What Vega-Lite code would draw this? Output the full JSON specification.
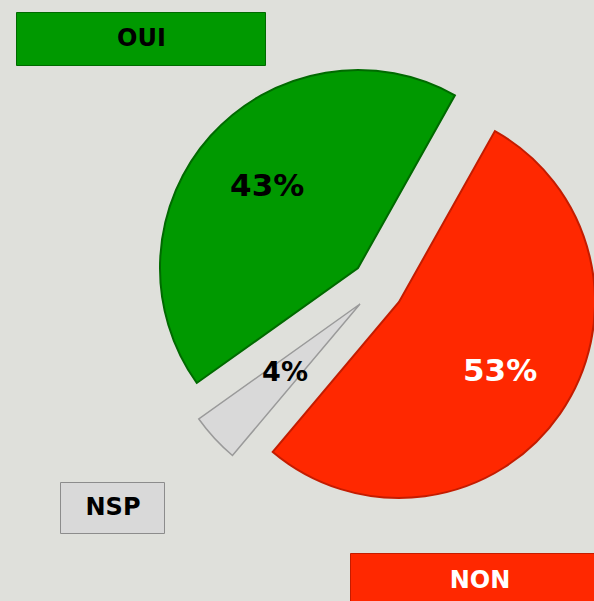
{
  "$schema": "https://vega.github.io/schema/vega-lite/v6.json",
  "width": 594,
  "height": 601,
  "autosize": "none",
  "padding": 0,
  "background": "#dfe0db",
  "config": {"view": {"stroke": null}},
  "data": {"values": [
    {"cat": "NON", "pct": 53, "ord": 1, "label": "53%"},
    {"cat": "NSP", "pct": 4, "ord": 2, "label": "4%"},
    {"cat": "OUI", "pct": 43, "ord": 3, "label": "43%"}
  ]},
  "layer": [
    {
      "mark": {"type": "arc", "outerRadius": 196, "xOffset": 102, "yOffset": 1.5, "stroke": "#c41c00", "strokeWidth": 2},
      "encoding": {
        "theta": {"field": "pct", "type": "quantitative", "stack": true, "scale": {"range": [0.5114, 6.7946]}},
        "order": {"field": "ord", "type": "quantitative"},
        "color": {"field": "cat", "type": "nominal", "scale": {"domain": ["NON"], "range": ["#ff2800"]},
          "legend": {"orient": "none", "legendX": 459, "legendY": 560, "title": null, "padding": 0,
            "symbolType": "M-6.45,-1.35H6.05V1.5H-6.45Z", "symbolSize": 1600, "symbolOpacity": 1,
            "symbolStrokeColor": "#c41c00", "symbolStrokeWidth": 1,
            "labelFont": "DejaVu Sans", "labelFontWeight": "bold", "labelFontSize": 24, "labelColor": "#ffffff",
            "labelOffset": -20, "labelAlign": "center"}},
        "opacity": {"condition": {"test": "datum.cat === 'NON'", "value": 1}, "value": 0}
      }
    },
    {
      "mark": {"type": "arc", "outerRadius": 198, "xOffset": 63, "yOffset": 3.5, "stroke": "#9a9a9a", "strokeWidth": 1.5},
      "encoding": {
        "theta": {"field": "pct", "type": "quantitative", "stack": true},
        "order": {"field": "ord", "type": "quantitative"},
        "color": {"field": "cat", "type": "nominal", "scale": {"domain": ["NSP"], "range": ["#d9d9d9"]},
          "legend": {"orient": "none", "legendX": 92, "legendY": 487.5, "title": null, "padding": 0,
            "symbolType": "M-2.6,-1.275H2.6V1.275H-2.6Z", "symbolSize": 1600, "symbolOpacity": 1,
            "symbolStrokeColor": "#8c8c8c", "symbolStrokeWidth": 1,
            "labelFont": "DejaVu Sans", "labelFontWeight": "bold", "labelFontSize": 24, "labelColor": "#000000",
            "labelOffset": -20, "labelAlign": "center"}},
        "opacity": {"condition": {"test": "datum.cat === 'NSP'", "value": 1}, "value": 0}
      }
    },
    {
      "mark": {"type": "arc", "outerRadius": 198, "xOffset": 61, "yOffset": -32.5, "stroke": "#006a00", "strokeWidth": 2},
      "encoding": {
        "theta": {"field": "pct", "type": "quantitative", "stack": true},
        "order": {"field": "ord", "type": "quantitative"},
        "color": {"field": "cat", "type": "nominal", "scale": {"domain": ["OUI"], "range": ["#009900"]},
          "legend": {"orient": "none", "legendX": 120.5, "legendY": 18.5, "title": null, "padding": 0,
            "symbolType": "M-6.225,-1.325H6.225V1.325H-6.225Z", "symbolSize": 1600, "symbolOpacity": 1,
            "symbolStrokeColor": "#006a00", "symbolStrokeWidth": 1,
            "labelFont": "DejaVu Sans", "labelFontWeight": "bold", "labelFontSize": 24, "labelColor": "#000000",
            "labelOffset": -20, "labelAlign": "center"}},
        "opacity": {"condition": {"test": "datum.cat === 'OUI'", "value": 1}, "value": 0}
      }
    },
    {
      "mark": {"type": "text", "radius": 123, "xOffset": 102, "yOffset": 1.5, "font": "DejaVu Sans", "fontWeight": "bold", "fontSize": 31, "fill": "#ffffff"},
      "encoding": {
        "theta": {"field": "pct", "type": "quantitative", "stack": true},
        "order": {"field": "ord", "type": "quantitative"},
        "detail": {"field": "cat", "type": "nominal"},
        "text": {"field": "label", "type": "nominal"},
        "opacity": {"condition": {"test": "datum.cat === 'NON'", "value": 1}, "value": 0}
      }
    },
    {
      "mark": {"type": "text", "radius": 102, "xOffset": 63, "yOffset": 3.5, "font": "DejaVu Sans", "fontWeight": "bold", "fontSize": 27, "fill": "#000000"},
      "encoding": {
        "theta": {"field": "pct", "type": "quantitative", "stack": true},
        "order": {"field": "ord", "type": "quantitative"},
        "detail": {"field": "cat", "type": "nominal"},
        "text": {"field": "label", "type": "nominal"},
        "opacity": {"condition": {"test": "datum.cat === 'NSP'", "value": 1}, "value": 0}
      }
    },
    {
      "mark": {"type": "text", "radius": 122, "xOffset": 61, "yOffset": -32.5, "font": "DejaVu Sans", "fontWeight": "bold", "fontSize": 31, "fill": "#000000"},
      "encoding": {
        "theta": {"field": "pct", "type": "quantitative", "stack": true},
        "order": {"field": "ord", "type": "quantitative"},
        "detail": {"field": "cat", "type": "nominal"},
        "text": {"field": "label", "type": "nominal"},
        "opacity": {"condition": {"test": "datum.cat === 'OUI'", "value": 1}, "value": 0}
      }
    }
  ],
  "resolve": {"scale": {"color": "independent"}, "legend": {"color": "independent"}}
}
